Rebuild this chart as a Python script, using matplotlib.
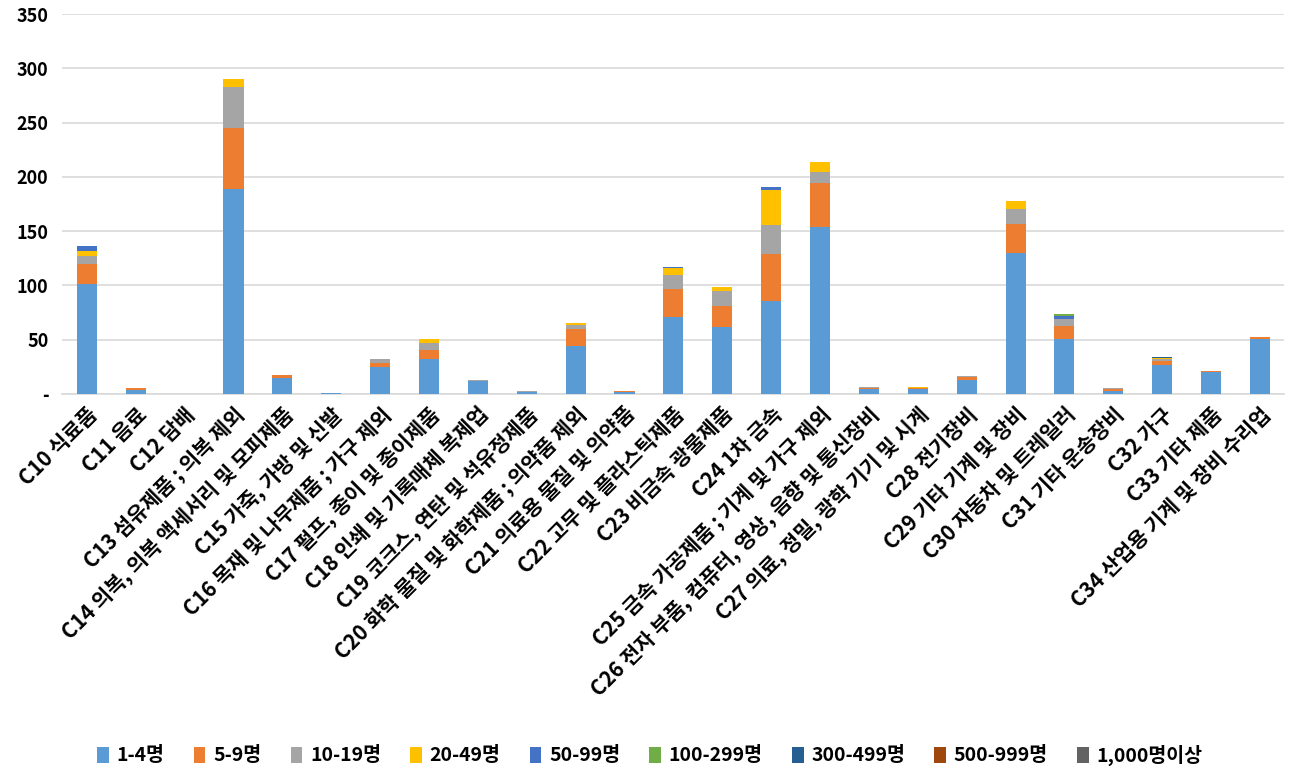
import numpy as np
import matplotlib.pyplot as plt
from matplotlib.ticker import FuncFormatter

plt.rcParams['font.family'] = ['Noto Sans CJK KR', 'DejaVu Sans']
plt.rcParams['font.weight'] = 'bold'

categories = ['C10 식료품', 'C11 음료', 'C12 담배', 'C13 섬유제품 ; 의복 제외',
              'C14 의복, 의복 액세서리 및 모피제품', 'C15 가죽, 가방 및 신발',
              'C16 목재 및 나무제품 ; 가구 제외', 'C17 펄프, 종이 및 종이제품',
              'C18 인쇄 및 기록매체 복제업', 'C19 코크스, 연탄 및 석유정제품',
              'C20 화학 물질 및 화학제품 ; 의약품 제외', 'C21 의료용 물질 및 의약품',
              'C22 고무 및 플라스틱제품', 'C23 비금속 광물제품', 'C24 1차 금속',
              'C25 금속 가공제품 ; 기계 및 가구 제외',
              'C26 전자 부품, 컴퓨터, 영상, 음향 및 통신장비',
              'C27 의료, 정밀, 광학 기기 및 시계', 'C28 전기장비', 'C29 기타 기계 및 장비',
              'C30 자동차 및 트레일러', 'C31 기타 운송장비', 'C32 가구', 'C33 기타 제품',
              'C34 산업용 기계 및 장비 수리업']

series_names = ['1-4명', '5-9명', '10-19명', '20-49명', '50-99명',
                '100-299명', '300-499명', '500-999명', '1,000명이상']
colors = ['#5B9BD5', '#ED7D31', '#A5A5A5', '#FFC000', '#4472C4',
          '#70AD47', '#255E91', '#9E480E', '#636363']

s_1_4 = [101, 4, 0, 189, 15, 1, 24.5, 32, 12, 2, 44, 2, 71, 61.7, 85.6, 154,
         4.6, 4.6, 12.9, 130, 50.7, 2.8, 26.7, 20.3, 50.7]
s_5_9 = [19, 1.5, 0, 56, 2, 0, 4, 8.5, 0, 0, 15.5, 0.7, 25.7, 19.6, 43.7, 40,
         1.2, 0.9, 2.8, 26.7, 12, 1.8, 3.7, 0.9, 1.8]
s_10_19 = [7, 0, 0, 38, 0, 0, 4, 6.5, 1, 0.3, 4, 0, 13, 13.6, 26.4, 10,
           0.6, 0.3, 0.9, 13.8, 6.3, 0.9, 1.8, 0, 0]
s_20_49 = [5, 0, 0, 7, 0, 0, 0, 3.5, 0, 0.4, 2, 0, 6.4, 3.7, 32.5, 10,
           0, 0.6, 0, 7.4, 0, 0, 0.9, 0, 0]
s_50_99 = [4, 0, 0, 0, 0, 0, 0, 0, 0, 0, 0, 0, 1, 0, 2.4, 0,
           0, 0, 0, 0, 2.8, 0, 0, 0, 0]
s_100_299 = [0, 0, 0, 0, 0, 0, 0, 0, 0, 0, 0, 0, 0, 0, 0, 0,
             0, 0, 0, 0, 1.9, 0, 0, 0, 0]
s_300_499 = [0, 0, 0, 0, 0, 0, 0, 0, 0, 0, 0, 0, 0, 0, 0, 0,
             0, 0, 0, 0, 0, 0, 0.8, 0, 0]
s_500_999 = [0] * 25
s_1000 = [0] * 25

series = [s_1_4, s_5_9, s_10_19, s_20_49, s_50_99, s_100_299, s_300_499, s_500_999, s_1000]

fig = plt.figure(figsize=(13, 7.8), dpi=100)
ax = fig.add_axes([0.048, 0.495, 0.94, 0.487])

x = np.arange(len(categories))
bottom = np.zeros(len(categories))
for name, vals, c in zip(series_names, series, colors):
    vals = np.array(vals, dtype=float)
    ax.bar(x, vals, 0.41, bottom=bottom, color=c, label=name, zorder=3)
    bottom += vals

ax.set_ylim(0, 350)
ax.set_xlim(-0.5, len(categories) - 0.5)
ax.set_yticks(np.arange(0, 351, 50))
ax.yaxis.set_major_formatter(FuncFormatter(lambda v, p: '-' if v == 0 else f'{int(v)}'))
ax.grid(axis='y', color='#D9D9D9', linewidth=1.2, zorder=0)
for s in ['top', 'right', 'left']:
    ax.spines[s].set_visible(False)
ax.spines['bottom'].set_color('#D9D9D9')
ax.spines['bottom'].set_linewidth(1.2)
ax.tick_params(axis='both', length=0)
ax.tick_params(axis='y', labelsize=13, pad=10)
ax.tick_params(axis='x', pad=7)
ax.set_xticks(x)
ax.set_xticklabels(categories, rotation=45, ha='right', rotation_mode='anchor',
                   fontsize=15, fontweight='bold')
for lbl in ax.get_yticklabels():
    lbl.set_fontweight('bold')

fig.legend(loc='center', bbox_to_anchor=(0.5, 0.032), ncol=9, frameon=False,
           handlelength=0.6, handleheight=0.9, columnspacing=1.5,
           handletextpad=0.4, prop={'weight': 'bold', 'size': 14})

fig.savefig('out.png', dpi=100)
